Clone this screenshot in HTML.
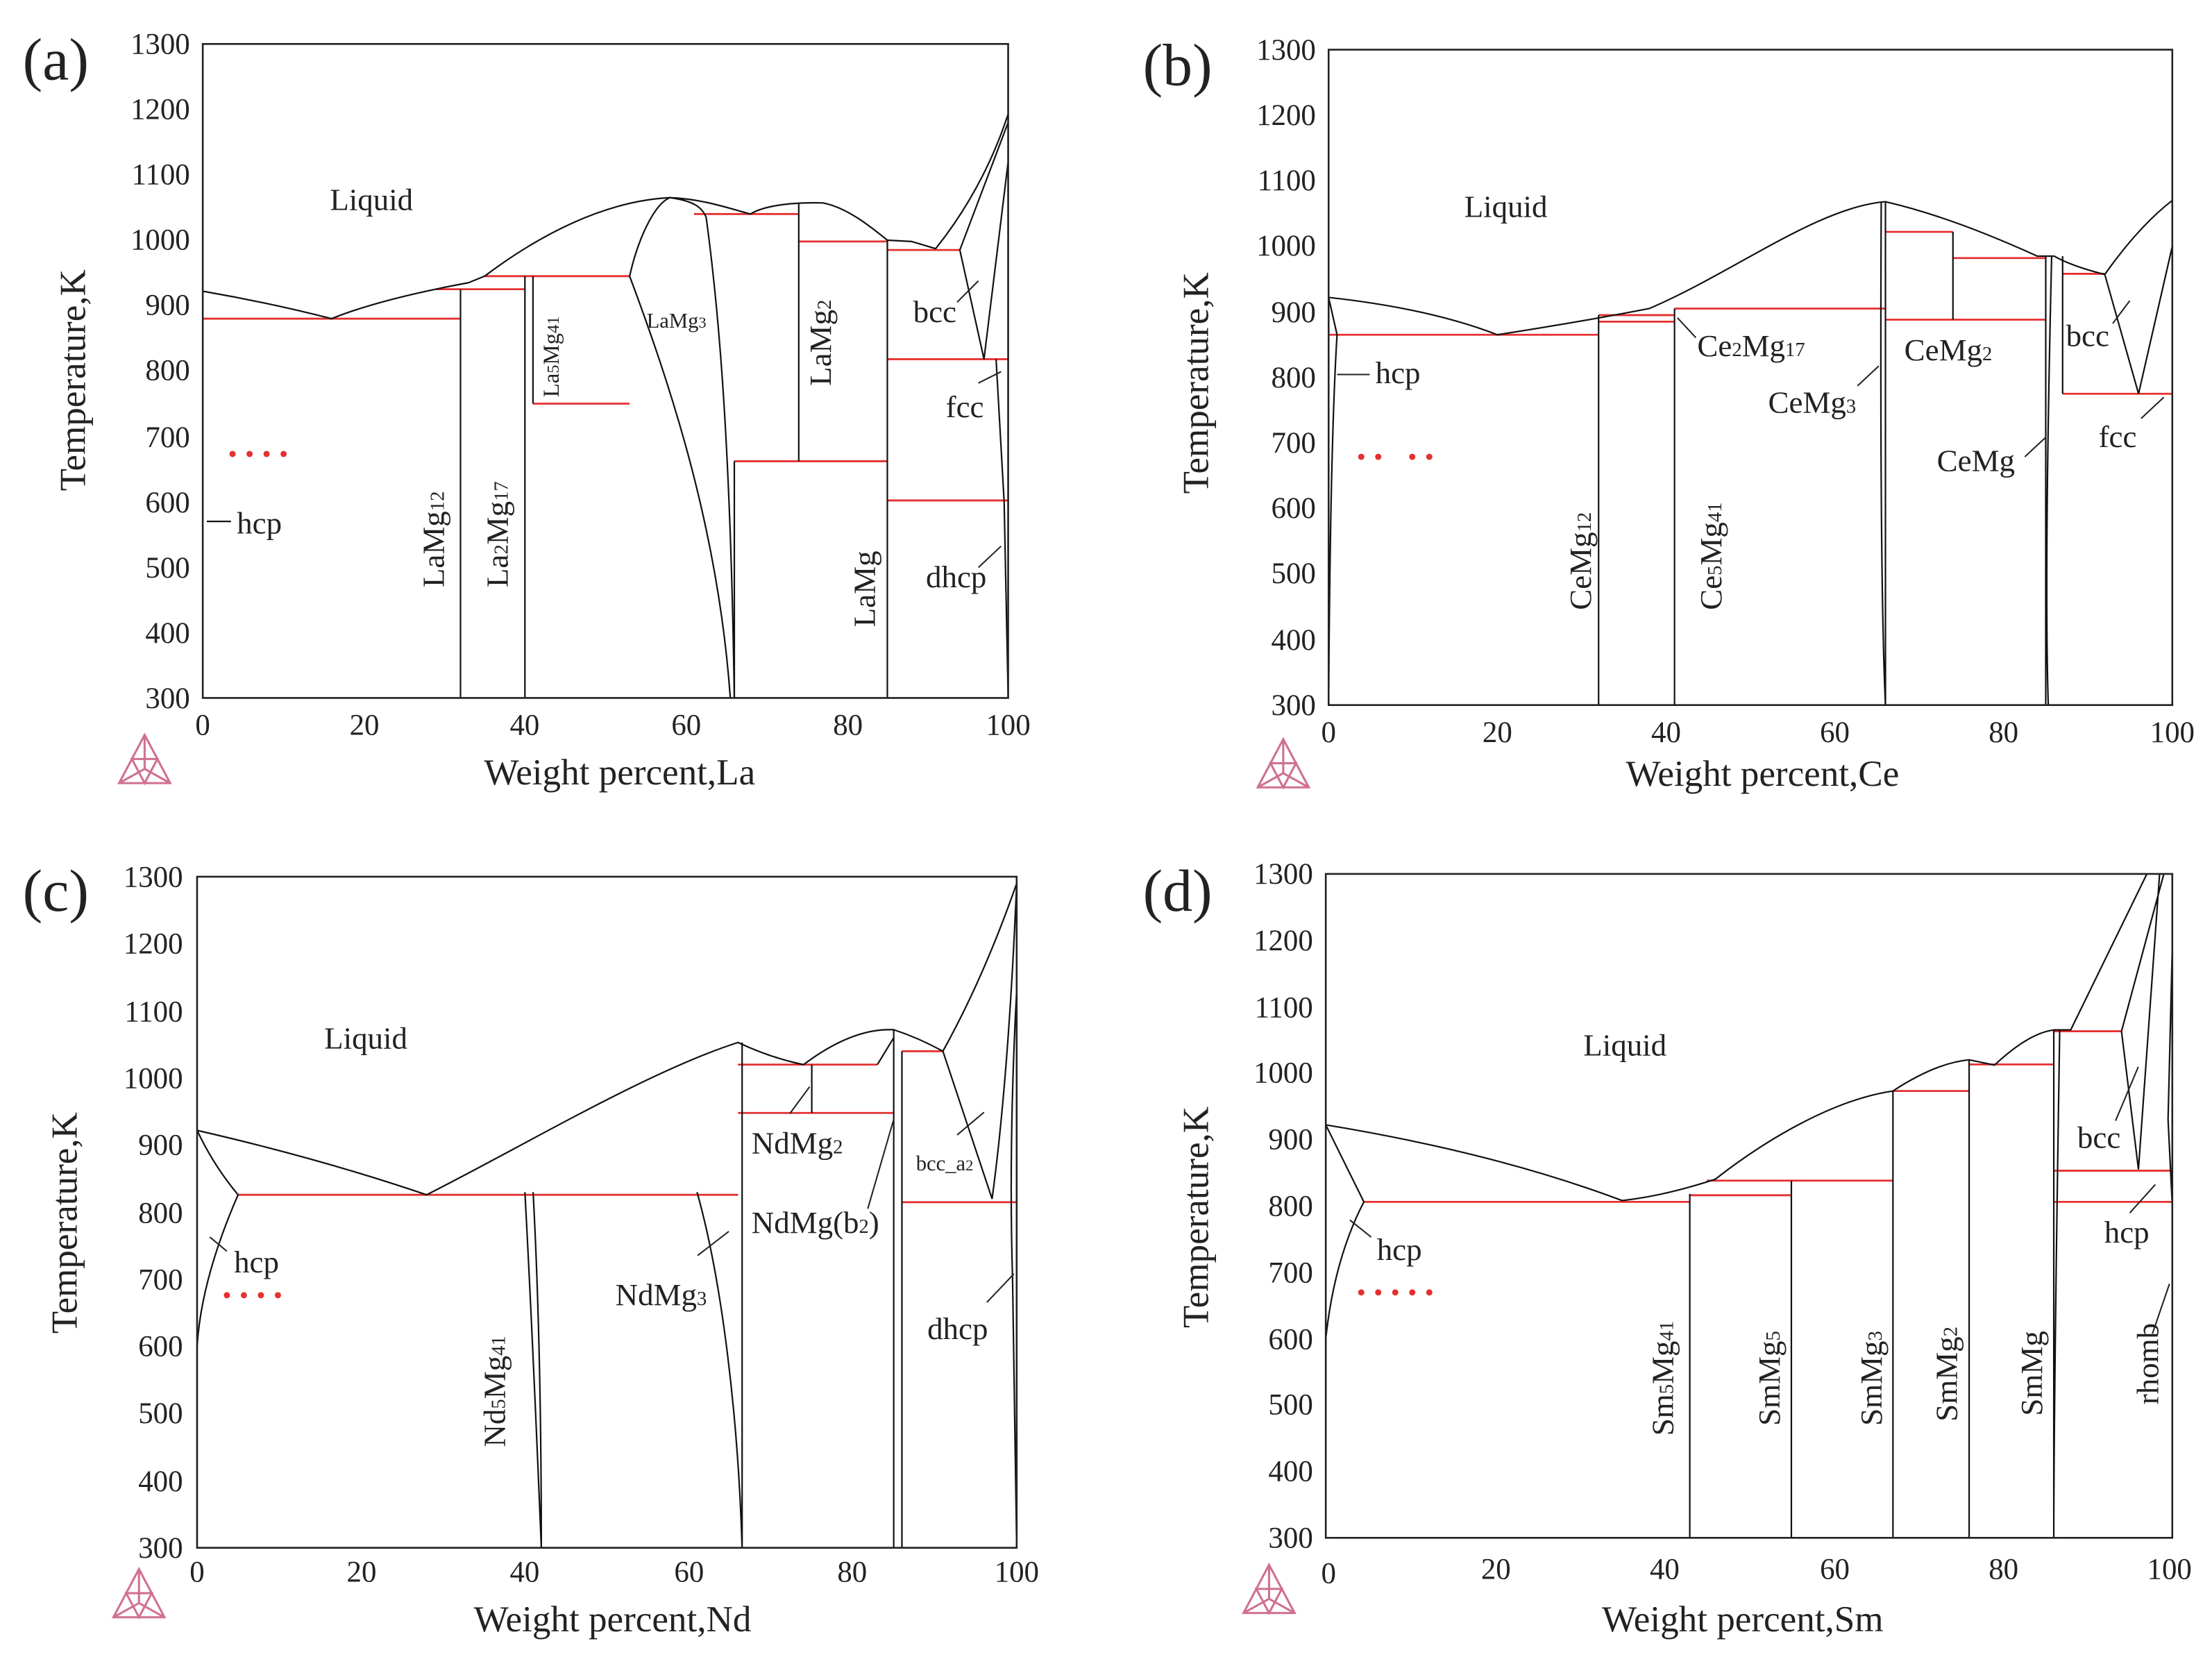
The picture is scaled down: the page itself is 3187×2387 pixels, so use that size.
<!DOCTYPE html>
<html><head><meta charset="utf-8"><style>
html,body{margin:0;padding:0;background:#fff;}
svg{display:block;}
text{font-family:"Liberation Serif","DejaVu Serif",serif;fill:#222;}
.t{font-size:21px;}
.ti{font-size:26px;}
.lb{font-size:22px;}
.pl{font-size:42px;}
</style></head><body>
<svg width="3187" height="2387" viewBox="0 0 1560 1168" preserveAspectRatio="none" xmlns="http://www.w3.org/2000/svg" font-family="Liberation Serif, DejaVu Serif, serif">
<defs>
<g id="logo"><path d="M0,-22 L18,12 L-18,12 Z M0,-22 L0,2 M-18,12 L0,2 L18,12 M-9,-5 L9,-5 L0,12 Z" fill="none" stroke="#d07090" stroke-width="1.5"/></g>
</defs>

<!-- ================= PANEL A ================= -->
<g>
<svg x="143" y="31" width="568" height="461" viewBox="0 -1300 100 1000" preserveAspectRatio="none" overflow="visible">
<path vector-effect="non-scaling-stroke" fill="none" stroke="#e53030" stroke-width="2.8" d="M0,-880H32 M29,-925H40 M35,-945H53 M41,-750H53 M61,-1040H74 M74,-998H85 M66,-662H85 M85,-985H94 M85,-818H100 M85,-602H100"/>
<g fill="none" stroke="#111" stroke-width="2.2">
<path vector-effect="non-scaling-stroke" d="M0,-922 Q8,-905 16,-880 Q22,-910 33,-935 L35,-945 C42,-1010 50,-1060 58,-1065 C62,-1063 65,-1050 68,-1040 C70,-1055 74,-1058 77,-1057 C80,-1050 83,-1020 85,-1000 L88,-998 L91,-987 Q97,-1080 100,-1193"/>
<path vector-effect="non-scaling-stroke" d="M94,-985 L100,-1180 M94,-985 L97,-818 L100,-1120 M98.5,-818 L99.5,-600 L100,-300"/>
<path vector-effect="non-scaling-stroke" d="M53,-945 C54,-1000 56,-1055 58,-1065 C61,-1060 62,-1050 62.5,-1035 C64,-900 65.5,-700 66,-300 M53,-945 C58,-780 64,-560 65.5,-300"/>
<path vector-effect="non-scaling-stroke" d="M32,-300V-925 M40,-300V-945 M41,-750V-945 M74,-662V-1057 M85,-300V-1000 M66,-300V-662"/>
<path vector-effect="non-scaling-stroke" d="M3.5,-570 L0.5,-570"/>
</g>
<rect x="0" y="-1300" width="100" height="1000" fill="none" stroke="#222" stroke-width="2.6" vector-effect="non-scaling-stroke"/>
</svg>
<g class="t" text-anchor="end">
<text x="134" y="38">1300</text><text x="134" y="84">1200</text><text x="134" y="130">1100</text><text x="134" y="176">1000</text><text x="134" y="222">900</text><text x="134" y="268">800</text><text x="134" y="315">700</text><text x="134" y="361">600</text><text x="134" y="407">500</text><text x="134" y="453">400</text><text x="134" y="499">300</text>
</g>
<g class="t" text-anchor="middle">
<text x="143" y="518">0</text><text x="257" y="518">20</text><text x="370" y="518">40</text><text x="484" y="518">60</text><text x="598" y="518">80</text><text x="711" y="518">100</text>
</g>
<text class="ti" x="437" y="553" text-anchor="middle">Weight percent,La</text>
<text class="ti" transform="translate(60,268) rotate(-90)" text-anchor="middle">Temperature,K</text>
<text class="pl" x="16" y="56">(a)</text>
<use href="#logo" x="102" y="540"/>
<text class="lb" x="262" y="148" text-anchor="middle">Liquid</text>
<text class="lb" x="167" y="376">hcp</text>
<text class="lb" x="644" y="227">bcc</text>
<text class="lb" x="667" y="294">fcc</text>
<text class="lb" x="653" y="414">dhcp</text>
<text x="456" y="231" style="font-size:15px">LaMg<tspan font-size="11">3</tspan></text>
<text class="lb" transform="translate(313,414) rotate(-90)">LaMg<tspan font-size="14">12</tspan></text>
<text class="lb" transform="translate(358,414) rotate(-90)">La<tspan font-size="14">2</tspan>Mg<tspan font-size="14">17</tspan></text>
<text transform="translate(394,280) rotate(-90)" style="font-size:16px">La<tspan font-size="12">5</tspan>Mg<tspan font-size="12">41</tspan></text>
<text class="lb" transform="translate(586,272) rotate(-90)">LaMg<tspan font-size="14">2</tspan></text>
<text class="lb" transform="translate(617,442) rotate(-90)">LaMg</text>
<g stroke="#222" stroke-width="1"><path d="M675,213 L690,198 M690,270 L706,262 M690,400 L706,385"/></g>
<g fill="#e53030"><circle cx="164" cy="320" r="2.2"/><circle cx="176" cy="320" r="2.2"/><circle cx="188" cy="320" r="2.2"/><circle cx="200" cy="320" r="2.2"/></g>
</g>

<!-- ================= PANEL B ================= -->
<g>
<svg x="937" y="35" width="595" height="462" viewBox="0 -1300 100 1000" preserveAspectRatio="none" overflow="visible">
<path vector-effect="non-scaling-stroke" fill="none" stroke="#e53030" stroke-width="2.8" d="M0,-865H32 M32,-885H41 M32,-895H41 M41,-905H66 M66,-1022H74 M74,-982H85 M66,-888H85 M87,-958H92 M87,-775H100"/>
<g fill="none" stroke="#111" stroke-width="2.2">
<path vector-effect="non-scaling-stroke" d="M0,-922 Q12,-905 20,-865 Q30,-885 38,-905 C48,-960 58,-1060 66,-1068 C72,-1050 78,-1020 84,-985 L86,-985 Q88,-970 92,-957 Q96,-1030 100,-1070"/>
<path vector-effect="non-scaling-stroke" d="M0,-922 L1,-865 Q0.2,-700 0,-300 M92,-957 L96,-775 L100,-1000"/>
<path vector-effect="non-scaling-stroke" d="M32,-300V-895 M41,-300V-905 M66,-300V-1068 M65.5,-1068 Q65.3,-500 66,-300 M74,-888V-1022 M85,-300V-985 M85.7,-985 Q84.8,-500 85.3,-300 M87,-775V-985"/>
</g>
<rect x="0" y="-1300" width="100" height="1000" fill="none" stroke="#222" stroke-width="2.6" vector-effect="non-scaling-stroke"/>
</svg>
<g class="t" text-anchor="end">
<text x="928" y="42">1300</text><text x="928" y="88">1200</text><text x="928" y="134">1100</text><text x="928" y="180">1000</text><text x="928" y="227">900</text><text x="928" y="273">800</text><text x="928" y="319">700</text><text x="928" y="365">600</text><text x="928" y="411">500</text><text x="928" y="458">400</text><text x="928" y="504">300</text>
</g>
<g class="t" text-anchor="middle">
<text x="937" y="523">0</text><text x="1056" y="523">20</text><text x="1175" y="523">40</text><text x="1294" y="523">60</text><text x="1413" y="523">80</text><text x="1532" y="523">100</text>
</g>
<text class="ti" x="1243" y="554" text-anchor="middle">Weight percent,Ce</text>
<text class="ti" transform="translate(852,270) rotate(-90)" text-anchor="middle">Temperature,K</text>
<text class="pl" x="806" y="60">(b)</text>
<use href="#logo" x="905" y="543"/>
<text class="lb" x="1062" y="153" text-anchor="middle">Liquid</text>
<text class="lb" x="970" y="270">hcp</text>
<text class="lb" x="1197" y="251">Ce<tspan font-size="14">2</tspan>Mg<tspan font-size="14">17</tspan></text>
<text class="lb" x="1247" y="291">CeMg<tspan font-size="14">3</tspan></text>
<text class="lb" x="1343" y="254">CeMg<tspan font-size="14">2</tspan></text>
<text class="lb" x="1366" y="332">CeMg</text>
<text class="lb" x="1457" y="244">bcc</text>
<text class="lb" x="1480" y="315">fcc</text>
<text class="lb" transform="translate(1122,430) rotate(-90)">CeMg<tspan font-size="14">12</tspan></text>
<text class="lb" transform="translate(1214,430) rotate(-90)">Ce<tspan font-size="14">5</tspan>Mg<tspan font-size="14">41</tspan></text>
<g stroke="#222" stroke-width="1"><path d="M966,264 L943,264 M1196,238 L1183,224 M1310,272 L1325,258 M1428,322 L1443,308 M1490,228 L1502,212 M1510,295 L1526,280"/></g>
<g fill="#e53030"><circle cx="960" cy="322" r="2.2"/><circle cx="972" cy="322" r="2.2"/><circle cx="996" cy="322" r="2.2"/><circle cx="1008" cy="322" r="2.2"/></g>
</g>

<!-- ================= PANEL C ================= -->
<g>
<svg x="139" y="618" width="578" height="473" viewBox="0 -1300 100 1000" preserveAspectRatio="none" overflow="visible">
<path vector-effect="non-scaling-stroke" fill="none" stroke="#e53030" stroke-width="2.8" d="M5,-826H66 M66,-1020H83 M66,-948H85 M86,-1040H91 M86,-815H100"/>
<g fill="none" stroke="#111" stroke-width="2.2">
<path vector-effect="non-scaling-stroke" d="M0,-922 Q15,-880 28,-826 C40,-900 55,-1010 66,-1053 Q70,-1030 74,-1020 Q80,-1075 85,-1072 Q88,-1060 91,-1040 Q96,-1150 100,-1290"/>
<path vector-effect="non-scaling-stroke" d="M91,-1040 L97,-820 Q99,-1000 100,-1290 M0,-922 Q2,-870 5,-826 Q0.5,-700 0,-600 L0,-300"/>
<path vector-effect="non-scaling-stroke" d="M40,-830 Q41,-600 42,-300 M41,-830 Q42,-600 42,-300 M61,-830 C64,-700 66,-500 66.5,-300 M66.5,-300V-1053 M75,-948V-1020 M85,-300V-1072 M86,-300V-1040 M83,-1020 L85,-1060 M100,-1130 Q99,-900 99.5,-700 L100,-300"/>
</g>
<rect x="0" y="-1300" width="100" height="1000" fill="none" stroke="#222" stroke-width="2.6" vector-effect="non-scaling-stroke"/>
</svg>
<g class="t" text-anchor="end">
<text x="129" y="625">1300</text><text x="129" y="672">1200</text><text x="129" y="720">1100</text><text x="129" y="767">1000</text><text x="129" y="814">900</text><text x="129" y="862">800</text><text x="129" y="909">700</text><text x="129" y="956">600</text><text x="129" y="1003">500</text><text x="129" y="1051">400</text><text x="129" y="1098">300</text>
</g>
<g class="t" text-anchor="middle">
<text x="139" y="1115">0</text><text x="255" y="1115">20</text><text x="370" y="1115">40</text><text x="486" y="1115">60</text><text x="601" y="1115">80</text><text x="717" y="1115">100</text>
</g>
<text class="ti" x="432" y="1150" text-anchor="middle">Weight percent,Nd</text>
<text class="ti" transform="translate(54,862) rotate(-90)" text-anchor="middle">Temperature,K</text>
<text class="pl" x="16" y="642">(c)</text>
<use href="#logo" x="98" y="1128"/>
<text class="lb" x="258" y="739" text-anchor="middle">Liquid</text>
<text class="lb" x="165" y="897">hcp</text>
<text class="lb" x="434" y="920">NdMg<tspan font-size="14">3</tspan></text>
<text class="lb" x="530" y="813">NdMg<tspan font-size="14">2</tspan></text>
<text class="lb" x="530" y="869">NdMg(b<tspan font-size="14">2</tspan>)</text>
<text x="646" y="825" style="font-size:15px">bcc_a<tspan font-size="11">2</tspan></text>
<text class="lb" x="654" y="944">dhcp</text>
<text class="lb" transform="translate(356,1020) rotate(-90)">Nd<tspan font-size="14">5</tspan>Mg<tspan font-size="14">41</tspan></text>
<g stroke="#222" stroke-width="1"><path d="M160,882 L148,872 M492,885 L514,868 M557,785 L571,766 M612,852 L630,790 M675,800 L694,784 M696,918 L715,898"/></g>
<g fill="#e53030"><circle cx="160" cy="913" r="2.2"/><circle cx="172" cy="913" r="2.2"/><circle cx="184" cy="913" r="2.2"/><circle cx="196" cy="913" r="2.2"/></g>
</g>

<!-- ================= PANEL D ================= -->
<g>
<svg x="935" y="616" width="597" height="468" viewBox="0 -1300 100 1000" preserveAspectRatio="none" overflow="visible">
<path vector-effect="non-scaling-stroke" fill="none" stroke="#e53030" stroke-width="2.8" d="M4.5,-806H43 M43,-816H55 M45,-838H67 M67,-973H76 M76,-1013H86 M86,-1063H94 M86,-853H100 M86,-806H100"/>
<g fill="none" stroke="#111" stroke-width="2.2">
<path vector-effect="non-scaling-stroke" d="M0,-922 Q20,-880 35,-808 Q40,-815 46,-840 C52,-900 60,-960 67,-973 Q72,-1015 76,-1020 L79,-1012 Q83,-1060 86,-1065 L88,-1065 L97,-1300"/>
<path vector-effect="non-scaling-stroke" d="M94,-1063 L99,-1300 M94,-1063 L96,-855 L98.5,-1300 M100,-1190 L99.5,-930 L100,-800 M0,-922 L4.5,-806 Q1,-720 0,-600 L0,-500"/>
<path vector-effect="non-scaling-stroke" d="M43,-300V-818 M55,-300V-838 M67,-300V-973 M76,-300V-1020 M86,-300V-1065 M86.7,-1065 Q86,-500 86,-300"/>
</g>
<rect x="0" y="-1300" width="100" height="1000" fill="none" stroke="#222" stroke-width="2.6" vector-effect="non-scaling-stroke"/>
</svg>
<g class="t" text-anchor="end">
<text x="926" y="623">1300</text><text x="926" y="670">1200</text><text x="926" y="717">1100</text><text x="926" y="763">1000</text><text x="926" y="810">900</text><text x="926" y="857">800</text><text x="926" y="904">700</text><text x="926" y="951">600</text><text x="926" y="997">500</text><text x="926" y="1044">400</text><text x="926" y="1091">300</text>
</g>
<g class="t" text-anchor="middle">
<text x="937" y="1116">0</text><text x="1055" y="1113">20</text><text x="1174" y="1113">40</text><text x="1294" y="1113">60</text><text x="1413" y="1113">80</text><text x="1530" y="1113">100</text>
</g>
<text class="ti" x="1229" y="1150" text-anchor="middle">Weight percent,Sm</text>
<text class="ti" transform="translate(852,858) rotate(-90)" text-anchor="middle">Temperature,K</text>
<text class="pl" x="806" y="642">(d)</text>
<use href="#logo" x="895" y="1125"/>
<text class="lb" x="1146" y="744" text-anchor="middle">Liquid</text>
<text class="lb" x="971" y="888">hcp</text>
<text class="lb" x="1465" y="809">bcc</text>
<text class="lb" x="1484" y="876">hcp</text>
<text class="lb" transform="translate(1180,1012) rotate(-90)">Sm<tspan font-size="14">5</tspan>Mg<tspan font-size="14">41</tspan></text>
<text class="lb" transform="translate(1255,1005) rotate(-90)">SmMg<tspan font-size="14">5</tspan></text>
<text class="lb" transform="translate(1327,1005) rotate(-90)">SmMg<tspan font-size="14">3</tspan></text>
<text class="lb" transform="translate(1380,1002) rotate(-90)">SmMg<tspan font-size="14">2</tspan></text>
<text class="lb" transform="translate(1440,998) rotate(-90)">SmMg</text>
<text class="lb" transform="translate(1522,990) rotate(-90)">rhomb</text>
<g stroke="#222" stroke-width="1"><path d="M967,872 L952,860 M1492,790 L1508,752 M1502,855 L1520,835 M1518,940 L1530,905"/></g>
<g fill="#e53030"><circle cx="960" cy="911" r="2.2"/><circle cx="972" cy="911" r="2.2"/><circle cx="984" cy="911" r="2.2"/><circle cx="996" cy="911" r="2.2"/><circle cx="1008" cy="911" r="2.2"/></g>
</g>
</svg>
</body></html>
